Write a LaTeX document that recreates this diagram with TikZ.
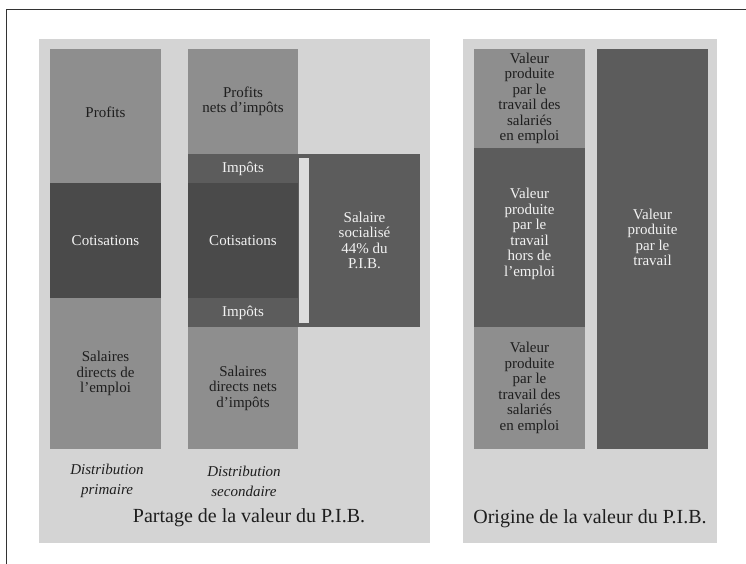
\documentclass[tikz,border=0pt]{standalone}
\usepackage{fontspec}
\setmainfont{Liberation Serif}
\definecolor{panelbg}{HTML}{D4D4D4}
\definecolor{midgrey}{HTML}{8E8E8E}
\definecolor{darkgrey}{HTML}{4A4A4A}
\definecolor{bandgrey}{HTML}{5C5C5C}
\definecolor{gapgrey}{HTML}{DCDCDC}
\definecolor{darktext}{HTML}{1E1E1E}
\definecolor{lighttext}{HTML}{F2F2F2}
\definecolor{framecol}{HTML}{333333}
\begin{document}
\begin{tikzpicture}[x=1pt,y=-1pt,
  blk/.style={anchor=north west, inner sep=0pt, outer sep=0pt, align=center,
    font=\fontsize{15}{15.5}\selectfont},
  midbox/.style={blk, fill=midgrey, text=darktext},
  darkbox/.style={blk, fill=darkgrey, text=lighttext},
  bandbox/.style={blk, fill=bandgrey, text=lighttext},
  panel/.style={anchor=north west, inner sep=0pt, outer sep=0pt, fill=panelbg},
  lbl/.style={inner sep=0pt, align=center, font=\fontsize{15}{15.5}\selectfont},
  caption/.style={inner sep=0pt, align=center, font=\fontsize{15}{20}\selectfont\itshape, text=darktext},
  title/.style={inner sep=0pt, font=\fontsize{20}{24}\selectfont, text=darktext}]
\useasboundingbox (0,0) rectangle (746,564);
\fill[white] (0,0) rectangle (746,564);
% frame (top and left)
\coordinate (ftr) at (746,9.5);
\coordinate (ftl) at (6.5,9.5);
\coordinate (fbl) at (6.5,564);
\draw[framecol, line width=1.2pt] (ftr) -- (ftl) -- (fbl);
% panels
\node[panel, minimum width=391.5pt, minimum height=503.5pt] (pL) at (38.5,39.5) {};
\node[panel, minimum width=254pt, minimum height=503.5pt] (pR) at (463,39.5) {};
% column 1
\node[midbox, minimum width=111pt, minimum height=134pt] (c1a) at (50,49) {};
\node[lbl, text=darktext] (t1a) at (105.5,112) {Profits};
\node[darkbox, minimum width=111pt, minimum height=115pt] (c1b) at (50,183) {Cotisations};
\node[midbox, minimum width=111pt, minimum height=151pt] (c1c) at (50,298) {Salaires\\directs de\\l’emploi};
% column 2
\node[midbox, minimum width=110pt, minimum height=105pt] (c2a) at (188,49) {Profits\\nets d’impôts};
\node[blk, fill=bandgrey, minimum width=232pt, minimum height=173pt] (band) at (188,154) {};
\node[bandbox, minimum width=110pt, minimum height=29pt] (imp1) at (188,154) {Impôts};
\node[darkbox, minimum width=110pt, minimum height=115pt] (c2b) at (188,183) {Cotisations};
\node[bandbox, minimum width=110pt, minimum height=29pt] (imp2) at (188,298) {Impôts};
\node[blk, fill=gapgrey, minimum width=10pt, minimum height=165pt] (gap) at (299,158) {};
\node[bandbox, minimum width=111pt, minimum height=173pt] (sal) at (309,154) {Salaire\\socialisé\\44\% du\\P.I.B.};
\node[midbox, minimum width=110pt, minimum height=122pt] (c2c) at (188,327) {Salaires\\directs nets\\d’impôts};
% captions left
\node[caption] (cap1) at (107,481) {Distribution\\primaire};
\node[caption] (cap2) at (244,481) {Distribution\\secondaire};
\node[title] (tL) at (249,518) {Partage de la valeur du P.I.B.};
% right panel
\node[midbox, minimum width=111pt, minimum height=99pt] (c3a) at (474,49) {Valeur\\produite\\par le\\travail des\\salariés\\en emploi};
\node[bandbox, minimum width=111pt, minimum height=179pt] (c3b) at (474,148) {};
\node[lbl, text=lighttext] (t3b) at (529.5,234) {Valeur\\produite\\par le\\travail\\hors de\\l’emploi};
\node[midbox, minimum width=111pt, minimum height=122pt] (c3c) at (474,327) {Valeur\\produite\\par le\\travail des\\salariés\\en emploi};
\node[bandbox, minimum width=111pt, minimum height=400pt] (c4) at (597,49) {};
\node[lbl, text=lighttext] (t4) at (652.5,237.5) {Valeur\\produite\\par le\\travail};
\node[title] (tR) at (590,519) {Origine de la valeur du P.I.B.};
\end{tikzpicture}
\end{document}
